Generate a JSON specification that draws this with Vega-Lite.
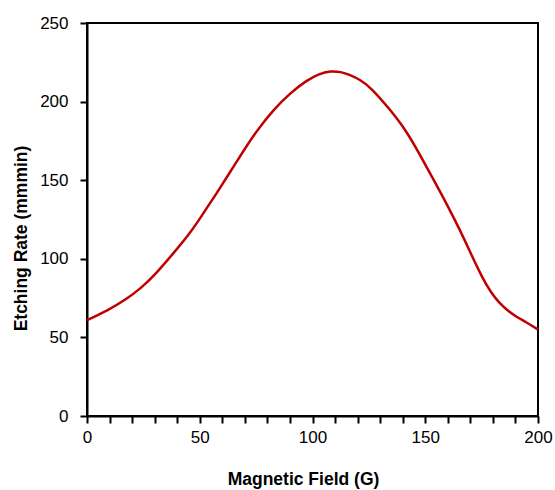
{
  "$schema": "https://vega.github.io/schema/vega-lite/v6.json",
  "width": 451,
  "height": 393,
  "autosize": {"type": "none"},
  "padding": {"left": 87, "top": 23, "right": 17, "bottom": 74},
  "background": "white",
  "config": {
    "view": {"stroke": "black", "strokeWidth": 2},
    "font": "Liberation Sans",
    "axis": {
      "domainColor": "black",
      "domainWidth": 2,
      "tickColor": "black",
      "tickWidth": 2,
      "tickSize": 7,
      "grid": false,
      "labelFont": "Liberation Sans",
      "labelFontSize": 17,
      "labelColor": "black",
      "titleFont": "Liberation Sans",
      "titleFontSize": 17.5,
      "titleFontWeight": "bold",
      "titleColor": "black"
    }
  },
  "data": {
    "values": [
      {"field": 0, "rate": 61},
      {"field": 9, "rate": 67},
      {"field": 17.7, "rate": 74.5},
      {"field": 24, "rate": 81.5},
      {"field": 29.4, "rate": 88.6},
      {"field": 38.3, "rate": 103.5},
      {"field": 45.7, "rate": 116.2},
      {"field": 51.6, "rate": 129},
      {"field": 57.5, "rate": 141.7},
      {"field": 63.4, "rate": 155},
      {"field": 69.3, "rate": 168.5},
      {"field": 75.3, "rate": 181.5},
      {"field": 82.6, "rate": 194.7},
      {"field": 90, "rate": 205.3},
      {"field": 97.4, "rate": 213.5},
      {"field": 103, "rate": 217.8},
      {"field": 108, "rate": 219.5},
      {"field": 112.5, "rate": 219},
      {"field": 116.6, "rate": 217},
      {"field": 121, "rate": 214},
      {"field": 125.5, "rate": 209.5},
      {"field": 134.4, "rate": 195},
      {"field": 141.8, "rate": 181},
      {"field": 147.7, "rate": 166},
      {"field": 153.6, "rate": 150.5},
      {"field": 159.5, "rate": 135},
      {"field": 165.4, "rate": 118.3},
      {"field": 170, "rate": 104},
      {"field": 175.6, "rate": 87},
      {"field": 179, "rate": 79},
      {"field": 183, "rate": 71.5},
      {"field": 187, "rate": 66.5},
      {"field": 190.5, "rate": 63},
      {"field": 195, "rate": 59.5},
      {"field": 200, "rate": 55}
    ]
  },
  "mark": {"type": "line", "color": "#C00000", "strokeWidth": 2.5, "interpolate": "basis"},
  "encoding": {
    "x": {
      "field": "field",
      "type": "quantitative",
      "scale": {"domain": [0, 200], "nice": false},
      "axis": {
        "title": "Magnetic Field (G)",
        "values": [0,10,20,30,40,50,60,70,80,90,100,110,120,130,140,150,160,170,180,190,200],
        "labelExpr": "datum.value % 50 == 0 ? datum.label : ''",
        "labelPadding": 6,
        "titlePadding": 25,
        "titleX": 216,
        "labelFlush": false
      }
    },
    "y": {
      "field": "rate",
      "type": "quantitative",
      "scale": {"domain": [0, 250], "nice": false},
      "axis": {
        "title": "Etching Rate (mmmin)",
        "values": [0, 50, 100, 150, 200, 250],
        "labelPadding": 12,
        "titlePadding": 9,
        "titleY": 215
      }
    }
  }
}
